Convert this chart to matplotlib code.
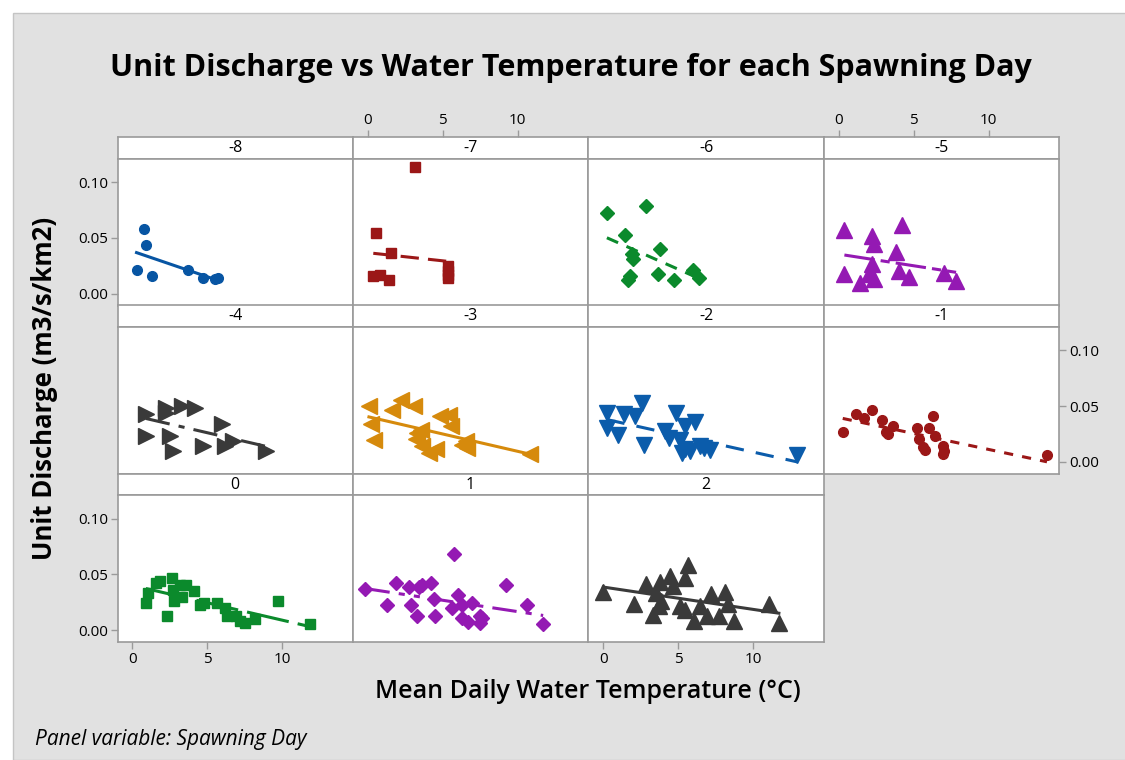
import numpy as np
import matplotlib
matplotlib.use("Agg")
import matplotlib.pyplot as plt
from matplotlib.patches import Rectangle

plt.rcParams['font.family'] = ['Open Sans', 'DejaVu Sans']

# spawning day panels, in reading order
days = ['-8', '-7', '-6', '-5', '-4', '-3', '-2', '-1', '0', '1', '2']

temp_m8 = [0.27, 0.8, 0.93, 1.33, 3.71, 4.73, 5.5, 5.7]
q_m8 = [0.021, 0.058, 0.0434, 0.0157, 0.021, 0.0137, 0.013, 0.014]

temp_m7 = [3.15, 0.51, 1.56, 0.36, 0.78, 1.42, 5.31, 5.31, 5.35, 5.31]
q_m7 = [0.114, 0.0545, 0.0366, 0.0157, 0.0172, 0.0122, 0.0247, 0.0202, 0.017, 0.0137]

temp_m6 = [0.24, 2.87, 1.42, 3.78, 1.89, 1.95, 1.78, 1.66, 3.66, 4.69, 6.0, 6.4]
q_m6 = [0.072, 0.0788, 0.0527, 0.040, 0.036, 0.031, 0.0157, 0.0128, 0.0178, 0.0122, 0.021, 0.014]

temp_m5 = [0.38, 4.2, 2.2, 2.33, 3.8, 2.2, 0.38, 2.05, 2.33, 1.43, 4.03, 4.71, 7.04, 7.83]
q_m5 = [0.0568, 0.062, 0.052, 0.0446, 0.0375, 0.027, 0.018, 0.018, 0.0134, 0.0098, 0.020, 0.0148, 0.0187, 0.0113]

temp_m4 = [0.89, 2.22, 2.22, 3.29, 4.15, 6.0, 0.89, 2.49, 2.71, 4.71, 6.15, 6.71, 8.93]
q_m4 = [0.043, 0.0484, 0.044, 0.0504, 0.0484, 0.034, 0.0237, 0.0237, 0.0097, 0.0147, 0.0141, 0.0192, 0.0097]

temp_m3 = [0.07, 2.18, 1.62, 3.07, 4.78, 5.4, 5.51, 0.18, 0.4, 3.51, 3.18, 3.62, 4.07, 4.51, 6.29, 6.62, 6.51, 10.84, 3.29]
q_m3 = [0.0498, 0.0558, 0.0469, 0.0498, 0.0415, 0.0424, 0.0326, 0.0341, 0.020, 0.029, 0.0207, 0.0141, 0.0082, 0.0112, 0.0156, 0.0127, 0.0186, 0.0076, 0.0258]

temp_m2 = [0.22, 1.4, 2.12, 2.6, 4.84, 6.13, 5.47, 0.22, 1.0, 2.74, 4.13, 4.35, 5.13, 5.24, 5.8, 6.47, 6.69, 7.14, 5.47, 12.95]
q_m2 = [0.044, 0.0433, 0.041, 0.0528, 0.044, 0.0356, 0.032, 0.0305, 0.0245, 0.0156, 0.0275, 0.0216, 0.0201, 0.0082, 0.0097, 0.0141, 0.0127, 0.0105, 0.0112, 0.0067]

temp_m1 = [0.27, 1.16, 1.71, 2.2, 2.87, 3.65, 3.16, 3.27, 5.2, 6.0, 6.29, 5.38, 6.43, 5.6, 5.78, 6.93, 7.0, 6.93, 13.89]
q_m1 = [0.027, 0.043, 0.0394, 0.0469, 0.038, 0.0326, 0.0266, 0.0252, 0.0308, 0.0308, 0.0415, 0.0207, 0.0237, 0.0136, 0.0105, 0.0147, 0.0097, 0.0076, 0.0064]

temp_0 = [0.89, 1.04, 1.6, 1.82, 2.64, 2.27, 2.67, 2.77, 3.15, 3.31, 3.55, 4.09, 4.49, 4.75, 5.66, 6.15, 6.33, 6.93, 7.15, 7.49, 8.15, 9.71, 11.82]
q_0 = [0.0245, 0.0334, 0.0423, 0.0438, 0.0468, 0.0125, 0.0363, 0.0265, 0.0402, 0.0298, 0.0408, 0.0348, 0.023, 0.0245, 0.0245, 0.020, 0.0125, 0.0125, 0.008, 0.0066, 0.0104, 0.0259, 0.0051]

temp_1 = [-0.16, 1.85, 1.29, 2.73, 3.4, 3.58, 4.22, 2.89, 3.29, 4.44, 4.47, 5.76, 6.02, 5.62, 6.29, 6.95, 6.29, 6.69, 7.51, 7.62, 7.47, 9.18, 10.62, 11.69]
q_1 = [0.037, 0.0423, 0.023, 0.0387, 0.0387, 0.0408, 0.0423, 0.023, 0.0125, 0.028, 0.0125, 0.0685, 0.0319, 0.020, 0.023, 0.0245, 0.011, 0.0072, 0.0125, 0.011, 0.0066, 0.0402, 0.023, 0.0051]

temp_2 = [0.0, 2.07, 2.83, 3.3, 3.52, 3.79, 3.72, 3.86, 4.46, 4.68, 5.47, 5.65, 5.13, 5.42, 6.02, 6.47, 6.92, 7.21, 7.74, 8.15, 8.3, 8.7, 11.04, 11.71]
q_2 = [0.034, 0.0236, 0.0417, 0.0134, 0.0334, 0.0432, 0.022, 0.0265, 0.0488, 0.0393, 0.0468, 0.0587, 0.0214, 0.0185, 0.008, 0.0214, 0.0125, 0.0328, 0.0125, 0.0343, 0.0238, 0.008, 0.0238, 0.0066]

temps = [temp_m8, temp_m7, temp_m6, temp_m5, temp_m4, temp_m3, temp_m2, temp_m1, temp_0, temp_1, temp_2]
flows = [q_m8, q_m7, q_m6, q_m5, q_m4, q_m3, q_m2, q_m1, q_0, q_1, q_2]

colors = ['#0755a3', '#9b1717', '#0b8a2c', '#9419b3', '#3a3a3a', '#d68a0c',
          '#0b5cab', '#9b1717', '#0b8a2c', '#9419b3', '#3a3a3a']
markers = ['o', 's', 'D', '^', '>', '<', 'v', 'o', 's', 'D', '^']
msizes = [7, 6.5, 7.5, 11, 11, 11, 11, 7, 6.5, 7.5, 11]
lstyles = ['-', (0, (6, 3)), (0, (4, 3)), (0, (10, 2, 3, 2)), (0, (8, 3, 2, 3)), '-',
           (0, (6, 4)), (0, (3, 3)), (0, (14, 3)), (0, (8, 3, 2, 3, 2, 3)), '-']

W, H = 1125, 760
fig = plt.figure(figsize=(W / 100, H / 100), dpi=100, facecolor='white')
fig.patches.append(Rectangle((13 / W, 0), 1, 1 - 13 / H, transform=fig.transFigure,
                             facecolor='#e1e1e1', edgecolor='#c4c4c4', lw=1, zorder=-1))

L, T = 117.5, 137.3
colw, strip_h, data_h = 235.4, 21.7, 146.5
row_h = strip_h + data_h
frame = '#9a9a9a'
xlim = (-1.0, 14.7)
ylim = (-0.0105, 0.1208)


def style(ax):
    for s in ax.spines.values():
        s.set_color(frame)
        s.set_linewidth(1.2)
    ax.tick_params(length=5, width=1, color=frame, labelsize=11, pad=2)
    ax.set_xticks([])
    ax.set_yticks([])


def bold_ticks(ax):
    for lbl in ax.get_xticklabels() + ax.get_yticklabels():
        lbl.set_fontweight('medium')


for i, day in enumerate(days):
    r, c = divmod(i, 4)
    x0 = (L + c * colw) / W
    sax = fig.add_axes([x0, 1 - (T + r * row_h + strip_h) / H, colw / W, strip_h / H])
    ax = fig.add_axes([x0, 1 - (T + r * row_h + row_h) / H, colw / W, data_h / H])
    style(sax)
    style(ax)
    sax.set_xlim(xlim)
    sax.text(0.5, 0.5, day, transform=sax.transAxes, ha='center', va='center',
             fontsize=11.5, fontweight='medium')
    ax.set_xlim(xlim)
    ax.set_ylim(ylim)

    x = np.array(temps[i])
    y = np.array(flows[i])
    ax.plot(x, y, ls='none', marker=markers[i], ms=msizes[i], color=colors[i],
            mec=colors[i], clip_on=False, zorder=3)
    b, a = np.polyfit(x, y, 1)
    xs = np.array([x.min(), x.max()])
    ax.plot(xs, a + b * xs, color=colors[i], lw=2.2, ls=lstyles[i], zorder=2)

    if c == 0 and r in (0, 2):
        ax.set_yticks([0, 0.05, 0.10], ['0.00', '0.05', '0.10'])
    if c == 3 and r == 1:
        ax.yaxis.tick_right()
        ax.set_yticks([0, 0.05, 0.10], ['0.00', '0.05', '0.10'])
    if r == 0 and c in (1, 3):
        sax.xaxis.tick_top()
        sax.set_xticks([0, 5, 10])
    if r == 2 and c in (0, 2):
        ax.set_xticks([0, 5, 10])
    bold_ticks(ax)
    bold_ticks(sax)

fig.text(571 / W, 1 - 68 / H, 'Unit Discharge vs Water Temperature for each Spawning Day',
         ha='center', va='center', fontsize=22, fontweight='bold')
fig.text(45 / W, 1 - 388 / H, 'Unit Discharge (m3/s/km2)', rotation=90,
         ha='center', va='center', fontsize=18.5, fontweight='bold')
fig.text(588 / W, 1 - 692 / H, 'Mean Daily Water Temperature (°C)',
         ha='center', va='center', fontsize=18, fontweight='semibold')
fig.text(35 / W, 1 - 740 / H, 'Panel variable: Spawning Day', ha='left', va='center',
         fontsize=15, style='italic')

fig.savefig('out.png', dpi=100, facecolor=fig.get_facecolor())
